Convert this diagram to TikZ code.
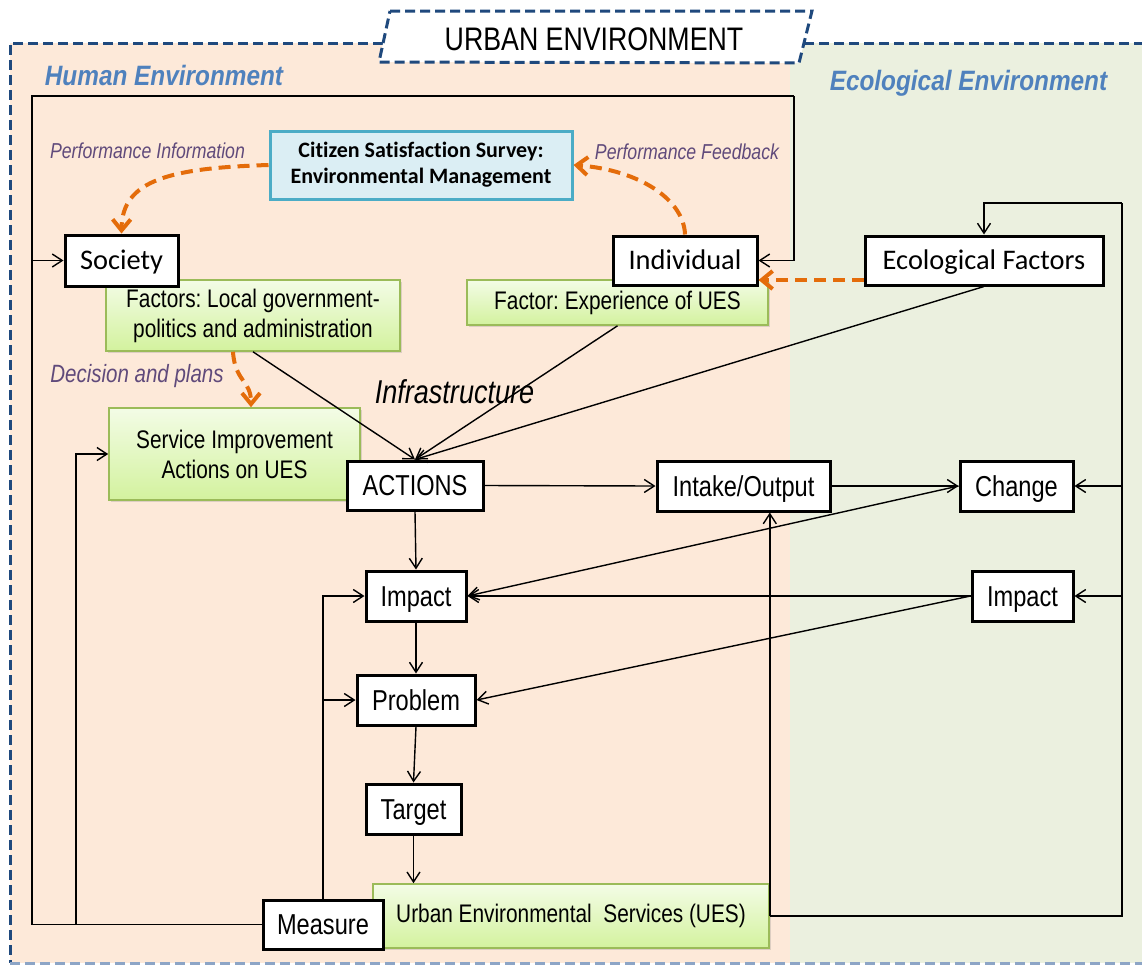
\documentclass[tikz,border=0pt]{standalone}
\usepackage{fontspec}
\setmainfont{Carlito}[Ligatures=NoCommon]
\newfontfamily\narrowf[FakeStretch=0.82]{Liberation Sans}
\newfontfamily\wideish[FakeStretch=0.87]{Liberation Sans}
\usetikzlibrary{arrows.meta,shadows}
\frenchspacing
\definecolor{peach}{HTML}{FDE9D9}
\definecolor{ecogreen}{HTML}{EBF0DF}
\definecolor{bordblue}{HTML}{1F497D}
\definecolor{bordlight}{HTML}{8DA5C6}
\definecolor{titleblue}{HTML}{4F81BD}
\definecolor{labpurple}{HTML}{604A7B}
\definecolor{orangeA}{HTML}{E46C0A}
\definecolor{gtop}{HTML}{F3FCE6}
\definecolor{gbot}{HTML}{D3F29E}
\definecolor{gborder}{HTML}{9BBB59}
\definecolor{cfill}{HTML}{DBEEF4}
\definecolor{cborder}{HTML}{4BACC6}
\tikzset{
  wbox/.style={draw=black, line width=1.5pt, fill=white, inner sep=0pt},
  narrowbox/.style={wbox, font=\narrowf\fontsize{14.4}{17}\selectfont, text height=13.3pt, text depth=2.9pt},
  calbox/.style={wbox, font=\fontsize{14.2}{17}\selectfont, text height=12.1pt, text depth=2.8pt},
  greenbox/.style={draw=gborder, line width=0.8pt, top color=gtop, bottom color=gbot, inner sep=0pt, align=center, font=\narrowf\fontsize{12.7}{15}\selectfont, drop shadow={shadow xshift=1.2pt, shadow yshift=-1.2pt, opacity=0.25}},
  conn/.style={line width=0.7pt, draw=black},
  arr/.style={-{Straight Barb[length=5pt,width=6.5pt]}},
  orangearr/.style={draw=orangeA, line width=2pt, dash pattern=on 6pt off 3.5pt, -{Straight Barb[length=5.5pt,width=9pt]}},
  envlab/.style={text=titleblue, font=\wideish\bfseries\itshape\fontsize{14}{16}\selectfont, anchor=base, inner sep=0pt},
  infolab/.style={text=labpurple, font=\narrowf\itshape\fontsize{10.8}{13}\selectfont, anchor=base, inner sep=0pt},
  envborder/.style={line width=1.5pt, dash pattern=on 5pt off 2.5pt}
}
\begin{document}
\begin{tikzpicture}[x=0.5pt,y=-0.5pt]
\useasboundingbox (0,0) rectangle (1142,965);
\clip (0,0) rectangle (1142,965);
% backgrounds
\fill[white] (0,0) rectangle (1142,965);
\fill[peach] (10,43) rectangle (790,963);
\fill[ecogreen] (790,43) rectangle (1160,963);
% outer border
\draw[envborder, bordblue] (383,43) -- (10,43) -- (10,963);
\draw[envborder, bordblue] (804,43) -- (1160,43);
\draw[envborder, bordlight] (10,963) -- (1160,963);
% title
\draw[envborder, bordblue, fill=white] (390,11) -- (812,11) -- (799,63) -- (379,62) -- cycle;
\node[anchor=base, inner sep=0pt, font=\narrowf\fontsize{16.3}{19}\selectfont] (title) at (594,50) {URBAN ENVIRONMENT};
% region labels
\node[envlab] (humanlab) at (164,85) {Human Environment};
\node[envlab] (ecolab) at (968.5,90) {Ecological Environment};
% green boxes
\node[greenbox, minimum width=147pt, minimum height=35.5pt] (factors) at (253,315.5) {Factors: Local government-\\politics and administration};
\node[greenbox, minimum width=150.5pt, minimum height=22.5pt] (experience) at (617.5,302.5) {Factor: Experience of UES};
\node[greenbox, minimum width=125.5pt, minimum height=46pt] (service) at (234.5,454) {Service Improvement\\Actions on UES};
\node[greenbox, minimum width=198pt, minimum height=32pt] (ues) at (571,916) {Urban Environmental\ \ Services (UES)};
% citizen box
\node[draw=cborder, fill=cfill, line width=1.5pt, inner sep=0pt, minimum width=151pt, minimum height=34pt, align=center, font=\bfseries\fontsize{11}{13}\selectfont] (citizen) at (421,165) {Citizen Satisfaction Survey:\\Environmental Management};
% white boxes
\node[calbox, minimum width=56.5pt, minimum height=25.5pt] (society) at (121.5,260.5) {Society};
\node[calbox, minimum width=72pt, minimum height=24.5pt] (individual) at (685,260.5) {Individual};
\node[calbox, minimum width=119pt, minimum height=24.5pt] (ecofac) at (984,260.5) {Ecological Factors};
\node[narrowbox, minimum width=68pt, minimum height=24.5pt] (actions) at (415,485.5) {ACTIONS};
\node[narrowbox, minimum width=86.5pt, minimum height=25pt] (intake) at (743.5,486) {Intake/Output};
\node[narrowbox, minimum width=56.5pt, minimum height=25pt] (change) at (1016.5,486) {Change};
\node[narrowbox, minimum width=50.5pt, minimum height=25pt] (impactR) at (1022.5,596) {Impact};
\node[narrowbox, minimum width=50pt, minimum height=25pt] (impactL) at (416,596) {Impact};
\node[narrowbox, minimum width=59pt, minimum height=25pt] (problem) at (416,700) {Problem};
\node[narrowbox, minimum width=47.5pt, minimum height=25pt] (target) at (413.5,809) {Target};
\node[narrowbox, minimum width=60pt, minimum height=24.5pt] (measure) at (323,924.5) {Measure};
% labels
\node[infolab] (perfinfo) at (147.5,158) {Performance Information};
\node[infolab] (perffeed) at (687,159) {Performance Feedback};
\node[infolab, font=\narrowf\itshape\fontsize{12.5}{15}\selectfont] (decision) at (137,382) {Decision and plans};
\node[anchor=base, inner sep=0pt, font=\narrowf\itshape\fontsize{16.5}{19}\selectfont] (infra) at (454.5,403) {Infrastructure};
% orange dashed arrows
\draw[orangearr] (citizen.west) .. controls (170,168) and (122,180) .. (society.north);
\draw[orangearr] (individual.north) .. controls (684,200) and (640,170) .. (citizen.east);
\draw[orangearr] (ecofac.west |- 0,280) -- (individual.east |- 0,280);
\draw[orangearr] (factors.south -| 233,0) .. controls (235,382) and (251,380) .. (service.north -| 251,0);
% coordinates
\coordinate (lefttop) at (32,96);
\coordinate (righttop) at (794,96);
\coordinate (loopR) at (1122,203);
% connectors
\draw[conn] (measure.west) -| (lefttop) -- (righttop);
\draw[conn, arr] (righttop) |- (individual.east);
\draw[conn, arr] (society.west -| lefttop) -- (society.west);
\draw[conn, arr] (76,924) |- (service.west);
\draw[conn, arr] (factors.south) -- (actions.north);
\draw[conn, arr] (experience.south) -- (actions.north);
\draw[conn, arr] (ecofac.south) -- (actions.north);
\draw[conn, arr] (actions.east) -- (intake.west);
\draw[conn, arr] (intake.east) -- (change.west);
\draw[conn, arr] (change.west) -- (impactL.east);
\draw[conn, arr] (impactR.west) -- (impactL.east);
\draw[conn, arr] (impactR.west) -- (problem.east);
\draw[conn, arr] (actions.south) -- (impactL.north);
\draw[conn, arr] (impactL.south) -- (problem.north);
\draw[conn, arr] (problem.south) -- (target.north);
\draw[conn, arr] (target.south) -- (target.south |- ues.north);
\draw[conn, arr] (measure.north) |- (impactL.west);
\draw[conn, arr] (measure.north |- problem.west) -- (problem.west);
\draw[conn] (ues.east) -| (loopR);
\draw[conn, arr] (loopR) -| (ecofac.north);
\draw[conn, arr] (change.east -| loopR) -- (change.east);
\draw[conn, arr] (impactR.east -| loopR) -- (impactR.east);
\draw[conn, arr] (ues.east) -- (intake.south -| ues.east);
\end{tikzpicture}
\end{document}
